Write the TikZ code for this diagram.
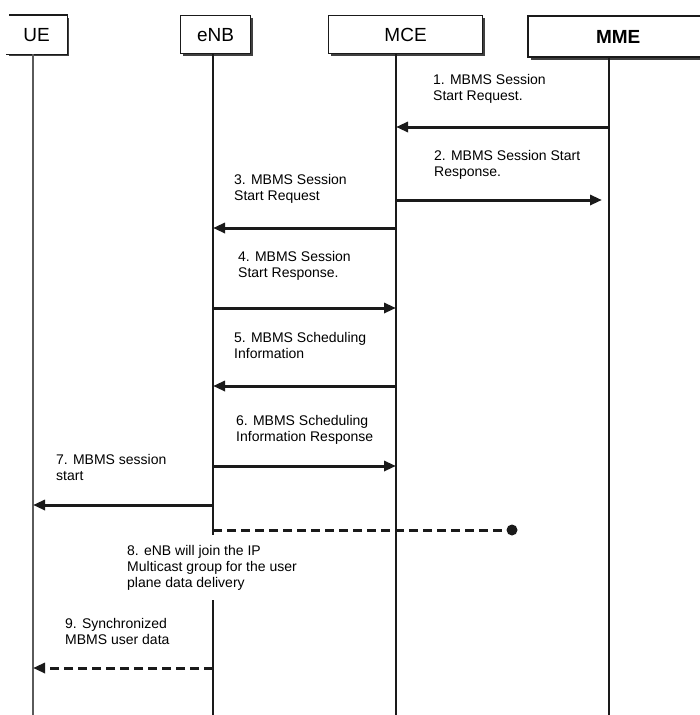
\documentclass[tikz,border=0pt]{standalone}
\usepackage{fontspec}
\setmainfont{Liberation Sans}
\usepackage{tikz}
\usetikzlibrary{arrows.meta,shadows,positioning}
\definecolor{seqblack}{HTML}{1A1A1A}
\definecolor{seqgray}{HTML}{5A5A5A}

\begin{document}
\begin{tikzpicture}[
    x=1pt, y=-1pt,
    % Estilos
    box/.style={fill=white, draw=seqblack, line width=1.2pt, minimum height=38pt, inner sep=0pt,
        font=\fontsize{19}{19}\selectfont,
        drop shadow={shadow xshift=2.4pt, shadow yshift=-2.4pt, fill=black!75, opacity=1}},
    life/.style={draw=seqblack, line width=2.4pt},
    arr/.style={-{Triangle[length=12pt, width=10pt]}, line width=3pt, draw=seqblack},
    darr/.style={arr, dash pattern=on 9pt off 5pt},
    dline/.style={line width=3pt, draw=seqblack, dash pattern=on 9pt off 5pt},
    dot/.style={circle, fill=seqblack, inner sep=0pt, minimum size=11pt},
    lbl/.style={font=\fontsize{14}{16}\selectfont, align=left, anchor=north west, inner sep=0pt}
]
\useasboundingbox (0,0) rectangle (699,715);

% --- DEFINICIÓN ESPACIAL (Nodos) ---
\node[box, draw=none, anchor=north west, minimum width=60pt] (ue)  at (6,15)   {UE};
\node[box, anchor=north west, minimum width=70pt]            (enb) at (180,15) {eNB};
\node[box, anchor=north west, minimum width=154pt]           (mce) at (328,15) {MCE};
\node[box, anchor=north west, minimum width=180pt, minimum height=41pt, line width=2.4pt,
      font=\fontsize{19}{19}\selectfont\bfseries]            (mme) at (527,15) {MME};
\draw[line width=1.2pt, draw=seqblack] ([xshift=3pt]ue.north west) -- (ue.north east) -- (ue.south east) -- (ue.south west);

\coordinate (ueL)  at (ue.south -| 33,0);
\coordinate (enbL) at (enb.south -| 213,0);
\coordinate (mceL) at (mce.south -| 396,0);
\coordinate (mmeL) at (mme.south -| 609,0);

% --- LÍNEAS DE VIDA ---
\draw[life, draw=seqgray] (ueL) -- (ueL |- 0,715);
\draw[life] (enbL) -- (enbL |- 0,715);
\draw[life] (mceL) -- (mceL |- 0,715);
\draw[life] (mmeL) -- (mmeL |- 0,715);

% --- ENRUTADO (Conexiones) ---
\draw[arr] (mmeL |- 0,127) -- (mceL |- 0,127);
\draw[arr] (mceL |- 0,200) -- ([xshift=-7pt]mmeL |- 0,200);
\draw[arr] (mceL |- 0,228) -- (enbL |- 0,228);
\draw[arr] (enbL |- 0,308) -- (mceL |- 0,308);
\draw[arr] (mceL |- 0,386) -- (enbL |- 0,386);
\draw[arr] (enbL |- 0,466) -- (mceL |- 0,466);
\draw[arr] (enbL |- 0,505) -- (ueL |- 0,505);

\node[dot] (join) at (512,530) {};
\draw[dline] (enbL |- join) -- (join);

\draw[darr] (enbL |- 0,668) -- (ueL |- 0,668);

% --- ETIQUETADO ---
\node[lbl] (t1) at (433,74)  {1. MBMS Session\\Start Request.};
\node[lbl] (t2) at (434,150) {2. MBMS Session Start\\Response.};
\node[lbl] (t3) at (234,174) {3. MBMS Session\\Start Request};
\node[lbl] (t4) at (238,251) {4. MBMS Session\\Start Response.};
\node[lbl] (t5) at (234,332) {5. MBMS Scheduling\\Information};
\node[lbl] (t6) at (236,415) {6. MBMS Scheduling\\Information Response};
\node[lbl] (t7) at (56,454)  {7. MBMS session\\start};
\node[lbl, fill=white, inner sep=10pt] (t8) at (117,535)
    {8. eNB will join the IP\\Multicast group for the user\\plane data delivery};
\node[lbl] (t9) at (65,618)  {9. Synchronized\\MBMS user data};

\end{tikzpicture}
\end{document}
